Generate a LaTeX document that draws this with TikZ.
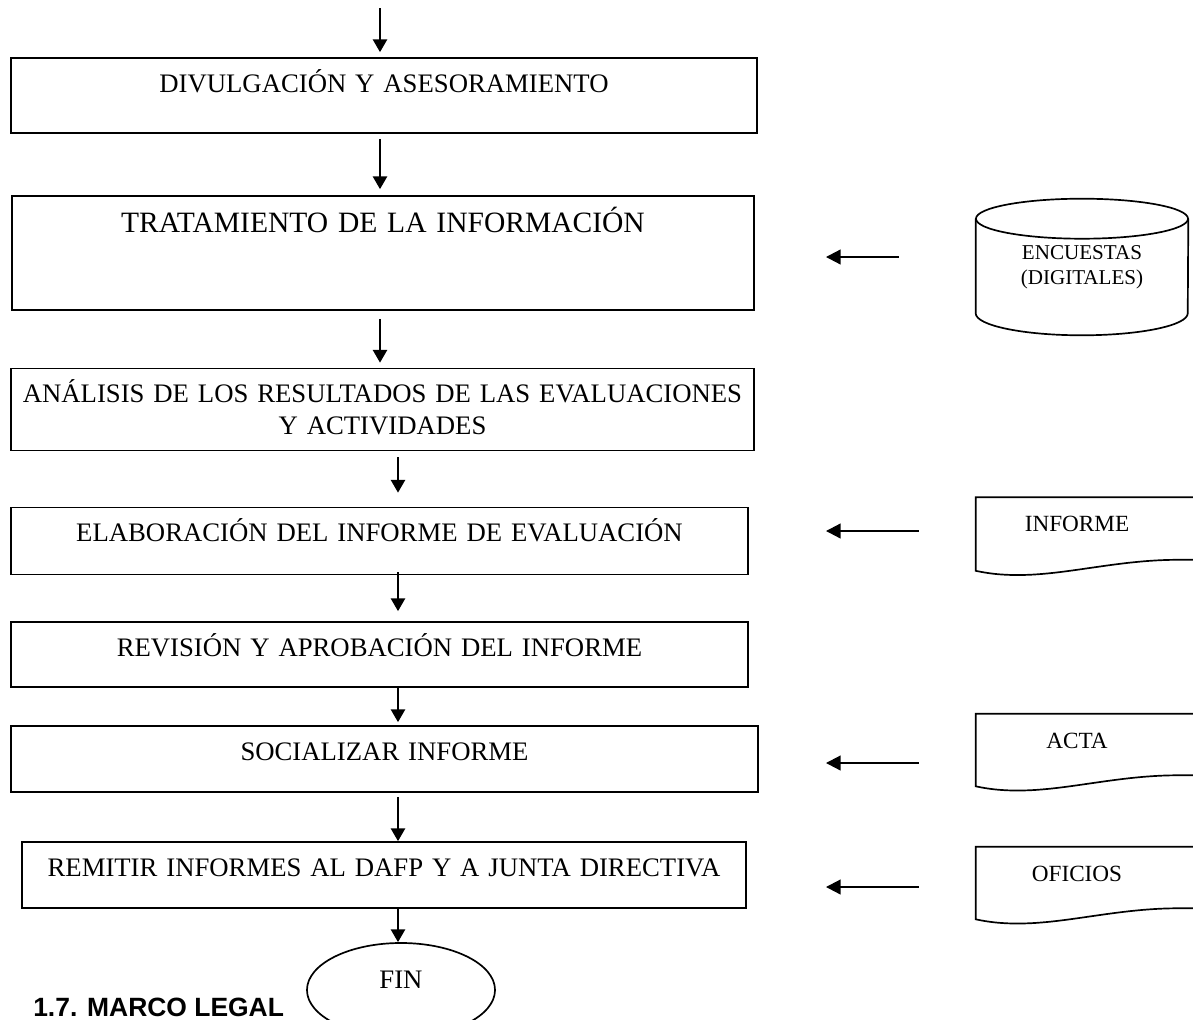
\documentclass[tikz,border=0pt]{standalone}
\usepackage{fontspec}
\setmainfont{Liberation Serif}
\newfontfamily\headfont{Liberation Sans}
\usetikzlibrary{shapes.geometric, arrows.meta, calc}

\begin{document}
\begin{tikzpicture}[
    x=0.025cm, y=-0.025cm,
    >={Triangle[length=9pt, width=10pt]},
    % Block styles
    flowbox/.style={
        rectangle, draw=black, line width=1.2pt,
        inner sep=0pt, align=center,
        text height=0.85cm,
        font=\fontsize{19}{22.8}\selectfont
    },
    docnode/.style={
        rectangle, inner sep=0pt,
        minimum width=5.05cm,
        text height=0.85cm,
        font=\fontsize{16.5}{20}\selectfont
    },
    docline/.style={
        draw=black, line width=1.2pt
    },
    endnode/.style={
        ellipse, draw=black, line width=1.2pt,
        minimum width=4.7cm, minimum height=2.35cm,
        text height=12.6pt, text depth=14.2pt,
        font=\fontsize{19}{22.8}\selectfont
    },
    storenode/.style={
        rectangle, inner sep=0pt,
        minimum width=5.3cm, minimum height=3.4cm,
        align=center, font=\fontsize{15}{18}\selectfont
    },
    arrow/.style={
        ->, line width=1.4pt
    },
    feed/.style={
        ->, line width=1.5pt, >={Triangle[length=10.5pt, width=10.5pt]}
    },
]
\useasboundingbox (0,0) rectangle (1193,1020);

% ===== MAIN FLOW =====
\node[flowbox, text width=18.65cm, text depth=1.025cm] (divulga) at (384,95.5) {DIVULGACIÓN Y ASESORAMIENTO};
\node[flowbox, text width=18.55cm, text height=0.925cm, text depth=1.925cm,
      font=\fontsize{21}{25}\selectfont] (tratam) at (383,253) {TRATAMIENTO DE LA INFORMACIÓN};
\node[flowbox, text width=18.575cm, text depth=1.2cm] (analisis) at (382.5,409.5) {ANÁLISIS DE LOS RESULTADOS DE LAS EVALUACIONES\\ Y ACTIVIDADES};
\node[flowbox, text width=18.425cm, text depth=0.825cm] (elabora) at (379.5,541) {ELABORACIÓN DEL INFORME DE EVALUACIÓN};
\node[flowbox, text width=18.425cm, text depth=0.775cm] (revision) at (379.5,654.5) {REVISIÓN Y APROBACIÓN DEL INFORME};
\node[flowbox, text width=18.675cm, text depth=0.8cm] (socializa) at (384.5,759) {SOCIALIZAR INFORME};
\node[flowbox, text width=18.1cm, text depth=0.8cm] (remitir) at (384,875) {REMITIR INFORMES AL DAFP Y A JUNTA DIRECTIVA};
\node[endnode] (fin) at (401,990) {FIN};

\node[anchor=base west, inner sep=0pt,
      font=\headfont\fontsize{18.8}{22}\selectfont\bfseries] (marco) at (33,1016) {1.7. MARCO LEGAL};

% ===== SUPPORTS =====
\node[storenode] (encuestas) at (1082,267) {ENCUESTAS\\(DIGITALES)};
\node[docnode, text depth=0.975cm] (informe) at (1077,534) {INFORME};
\node[docnode, text depth=0.95cm] (acta) at (1077,750) {ACTA};
\node[docnode, text depth=0.95cm] (oficios) at (1077,883) {OFICIOS};

% cylinder outline
\draw[docline] ([yshift=-0.5cm]encuestas.north) ellipse [x radius=2.65cm, y radius=0.5cm];
\draw[docline] ([yshift=-0.5cm]encuestas.north west) -- ([yshift=0.55cm]encuestas.south west)
    arc[start angle=180, end angle=360, x radius=2.65cm, y radius=0.55cm]
    -- ([yshift=-0.5cm]encuestas.north east);

% document outlines
\draw[docline] ([xshift=1cm]informe.north east) -- (informe.north west) -- (informe.south west)
    .. controls +(64,14) and +(-78,0) .. ([yshift=0.275cm]informe.south east) -- ++(40,0);
\draw[docline] ([xshift=1cm]acta.north east) -- (acta.north west) -- (acta.south west)
    .. controls +(64,14) and +(-78,0) .. ([yshift=0.275cm]acta.south east) -- ++(40,0);
\draw[docline] ([xshift=1cm]oficios.north east) -- (oficios.north west) -- (oficios.south west)
    .. controls +(64,14) and +(-78,0) .. ([yshift=0.275cm]oficios.south east) -- ++(40,0);

% ===== ARROWS =====
\coordinate (inicio) at (380,8);
\coordinate (colB) at (398,0);

\draw[arrow, shorten >=0.125cm] (inicio) -- (divulga.north -| inicio);
\draw[arrow, shorten <=0.125cm, shorten >=0.15cm] (divulga.south -| inicio) -- (tratam.north -| inicio);
\draw[arrow, shorten <=0.2cm, shorten >=0.125cm] (tratam.south -| inicio) -- (analisis.north -| inicio);
\draw[arrow, shorten <=0.15cm, shorten >=0.35cm] (analisis.south -| colB) -- (elabora.north -| colB);
\draw[arrow, shorten <=-0.075cm, shorten >=0.25cm] (elabora.south -| colB) -- (revision.north -| colB);
\draw[arrow, shorten >=0.075cm] (revision.south -| colB) -- (socializa.north -| colB);
\draw[arrow, shorten <=0.1cm] (socializa.south -| colB) -- (remitir.north -| colB);
\draw[arrow] (remitir.south -| colB) -- (fin.north -| colB);

% Supports to flow
\draw[feed, shorten <=1.925cm, shorten >=1.775cm] ([yshift=0.25cm]encuestas.west) -- ([yshift=0.25cm]encuestas.west -| tratam.east);
\draw[feed, shorten <=1.425cm, shorten >=1.925cm] ([yshift=0.075cm]informe.west) -- ([yshift=0.075cm]informe.west -| elabora.east);
\draw[feed, shorten <=1.425cm, shorten >=1.675cm] ([yshift=-0.325cm]acta.west) -- ([yshift=-0.325cm]acta.west -| socializa.east);
\draw[feed, shorten <=1.425cm, shorten >=1.975cm] ([yshift=-0.1cm]oficios.west) -- ([yshift=-0.1cm]oficios.west -| remitir.east);

\end{tikzpicture}
\end{document}
